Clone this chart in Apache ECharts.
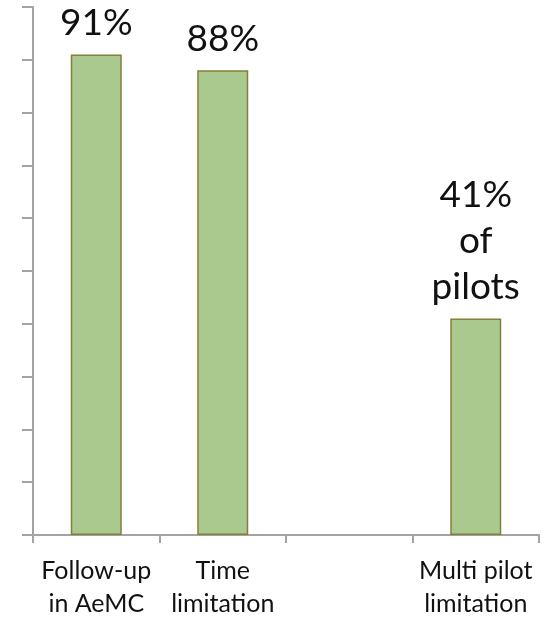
<!DOCTYPE html>
<html>
<head>
<meta charset="utf-8">
<script src="https://cdn.jsdelivr.net/npm/echarts@6/dist/echarts.min.js"></script>
<style>
  html, body { margin: 0; padding: 0; background: #fff; }
  #chart { width: 551px; height: 620px; }
</style>
</head>
<body>
<div id="chart"></div>
<script>
// Categories along the x axis (third slot is intentionally empty)
const categories = ['Follow-up\nin AeMC', 'Time\nlimitation', '', 'Multi pilot\nlimitation'];
// Share of respondents per category, in percent
const values = [91, 88, null, 41];
// Extra text written under the percentage above a bar
const notes = ['', '', '', 'of\npilots'];
// Value axis tick settings
const yMin = 0, yMax = 100, yStep = 10;

const FONT = 'Lato, "Noto Sans", sans-serif';
const axisGray = '#A3A3A3';

const chart = echarts.init(document.getElementById('chart'), null, { renderer: 'canvas' });
chart.setOption({
  animation: false,
  backgroundColor: '#ffffff',
  grid: { left: 33, right: 12, top: 7, bottom: 81, containLabel: false },
  xAxis: {
    type: 'category',
    data: categories,
    boundaryGap: true,
    axisLine: { show: true, lineStyle: { color: axisGray, width: 2 } },
    axisTick: { show: true, length: 8, alignWithLabel: false, lineStyle: { color: axisGray, width: 2 } },
    axisLabel: {
      color: '#111', fontFamily: FONT, fontSize: 25, lineHeight: 33, margin: 19, interval: 0
    },
    splitLine: { show: false }
  },
  yAxis: {
    type: 'value',
    min: yMin, max: yMax, interval: yStep,
    axisLine: { show: true, lineStyle: { color: axisGray, width: 2 } },
    axisTick: { show: true, length: 11, inside: false, lineStyle: { color: axisGray, width: 2 } },
    axisLabel: { show: false },
    splitLine: { show: false }
  },
  series: [{
    type: 'bar',
    data: values,
    barWidth: 51,
    itemStyle: { color: '#A9C98F', borderColor: '#867E3A', borderWidth: 1.5 },
    label: {
      show: true,
      position: 'top',
      distance: 8,
      color: '#111',
      fontFamily: FONT,
      fontSize: 37,
      lineHeight: 46,
      formatter: p => p.value == null ? '' : (p.value + '%' + (notes[p.dataIndex] ? '\n' + notes[p.dataIndex] : ''))
    }
  }]
});
</script>
</body>
</html>
